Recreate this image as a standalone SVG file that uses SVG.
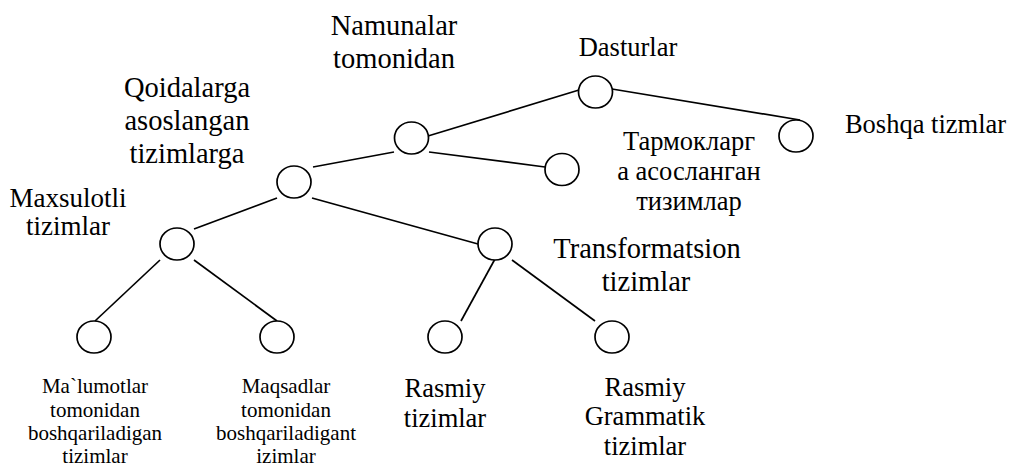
<svg xmlns="http://www.w3.org/2000/svg" width="1013" height="466" viewBox="0 0 1013 466">
  <style>
    .node ellipse { fill: #fff; stroke: #000; stroke-width: 1.7; }
    .edges line { stroke: #000; stroke-width: 1.7; }
    .lbl { font-family: 'Liberation Serif', 'Times New Roman', 'DejaVu Serif', serif; fill: #000; text-anchor: middle; }
    .big { font-size: 28.5px; }
    .mid { font-size: 26.5px; }
    .small { font-size: 21px; }
  </style>
  <defs>
    <clipPath id="clipTop">
      <rect x="100" y="60" width="200" height="110"/>
    </clipPath>
  </defs>
  <rect width="1013" height="466" fill="#fff"/>

  <g class="edges">
    <line x1="428" y1="136" x2="579" y2="90"/>
    <line x1="612" y1="89" x2="800" y2="120"/>
    <line x1="394" y1="152" x2="313" y2="167"/>
    <line x1="429" y1="152" x2="545" y2="167"/>
    <line x1="277" y1="198" x2="194" y2="229"/>
    <line x1="312" y1="198" x2="478" y2="244"/>
    <line x1="160" y1="260" x2="95" y2="321"/>
    <line x1="194" y1="260" x2="277" y2="321"/>
    <line x1="495" y1="259" x2="461" y2="321"/>
    <line x1="512" y1="260" x2="595" y2="321"/>
  </g>

  <g font-family="Liberation Serif, Times New Roman, serif">
  <g id="dasturlar" class="node">
    <ellipse cx="595.5" cy="92" rx="17" ry="16"/>
    <text class="lbl mid" x="628" y="56">Dasturlar</text>
  </g>
  <g id="namunalar" class="node">
    <ellipse cx="411.5" cy="138" rx="17" ry="16"/>
    <text class="lbl big" x="394" y="35">Namunalar</text>
    <text class="lbl big" x="394" y="68">tomonidan</text>
  </g>
  <g id="boshqa" class="node">
    <ellipse cx="796" cy="136" rx="17" ry="16"/>
    <text class="lbl mid" x="925.5" y="133">Boshqa tizmlar</text>
  </g>
  <g id="tarmoq" class="node">
    <ellipse cx="562" cy="169.5" rx="17" ry="16"/>
    <text class="lbl mid" x="689" y="150">Тармокларг</text>
    <text class="lbl mid" x="689" y="180">а асосланган</text>
    <text class="lbl mid" x="689" y="210">тизимлар</text>
  </g>
  <g id="qoidalarga" class="node">
    <ellipse cx="294" cy="182" rx="17" ry="16"/>
    <g clip-path="url(#clipTop)">
      <text class="lbl big" x="187" y="97">Qoidalarga</text>
      <text class="lbl big" x="187" y="130">asoslangan</text>
      <text class="lbl big" x="187" y="163">tizimlarga</text>
    </g>
  </g>
  <g id="maxsulotli" class="node">
    <ellipse cx="177" cy="244" rx="17" ry="16"/>
    <text class="lbl" x="68" y="207" font-size="27">Maxsulotli</text>
    <text class="lbl" x="68" y="235" font-size="27">tizimlar</text>
  </g>
  <g id="transformatsion" class="node">
    <ellipse cx="495" cy="244" rx="17" ry="16"/>
    <text class="lbl big" x="647" y="258">Transformatsion</text>
    <text class="lbl big" x="646" y="291">tizimlar</text>
  </g>
  <g id="malumotlar" class="node">
    <ellipse cx="94" cy="337" rx="17" ry="16"/>
    <text class="lbl small" x="95" y="393">Ma`lumotlar</text>
    <text class="lbl small" x="95" y="416.5">tomonidan</text>
    <text class="lbl small" x="95" y="440">boshqariladigan</text>
    <text class="lbl small" x="95" y="463">tizimlar</text>
  </g>
  <g id="maqsadlar" class="node">
    <ellipse cx="277" cy="337" rx="17" ry="16"/>
    <text class="lbl small" x="286" y="393">Maqsadlar</text>
    <text class="lbl small" x="286" y="416.5">tomonidan</text>
    <text class="lbl small" x="286" y="440">boshqariladigant</text>
    <text class="lbl small" x="286" y="463">izimlar</text>
  </g>
  <g id="rasmiy" class="node">
    <ellipse cx="445" cy="337" rx="17" ry="16"/>
    <text class="lbl mid" x="445" y="396.5">Rasmiy</text>
    <text class="lbl mid" x="445" y="426.5">tizimlar</text>
  </g>
  <g id="grammatik" class="node">
    <ellipse cx="612" cy="337" rx="17" ry="16"/>
    <text class="lbl mid" x="645" y="395.5">Rasmiy</text>
    <text class="lbl mid" x="645" y="425">Grammatik</text>
    <text class="lbl mid" x="645" y="455">tizimlar</text>
  </g>
  </g>
</svg>
